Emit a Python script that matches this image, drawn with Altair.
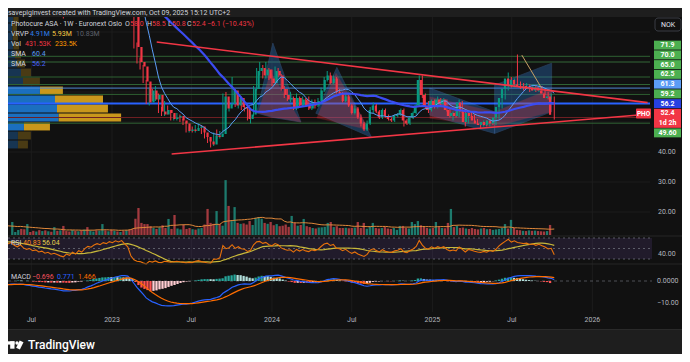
import altair as alt
import numpy as np
import pandas as pd

alt.data_transformers.disable_max_rows()

# ---------------- values ----------------
first_week = "2022-05-02"  # weekly candles (Monday of each week)

warmup_closes = [112, 115, 110, 106, 108, 104, 100, 103, 98, 101,
                 104, 107, 105, 102, 106, 109, 107, 104, 103, 101]
warmup_volumes = [400, 450, 380, 420, 500, 360, 390, 410, 350, 430,
                  380, 400, 420, 360, 390, 410, 370, 400, 380, 420]

closes = [102, 104, 106, 103, 101, 104, 100, 98, 99, 96,
          97, 94, 95, 92, 93, 90, 91, 89, 87, 85.5,
          88, 86, 89, 86.5, 90, 88, 92, 95, 94, 97,
          99, 98, 101, 100, 103, 102, 105, 104, 106, 103,
          100, 86, 75, 70, 68.5, 63.5, 56.5, 60.5, 57.5, 59,
          53.5, 52.5, 54, 53, 51, 51.5, 52, 50.5, 49.5, 47,
          47.5, 47, 48, 48.5, 46.5, 45, 43.5, 42.5, 45.5, 45,
          46, 58.5, 54.5, 56, 60.5, 55.5, 58, 55, 54.5, 51,
          52.5, 61, 67, 68, 65.5, 67.5, 64.5, 63, 67, 65.5,
          61, 59, 57.5, 58, 54.5, 58, 55.5, 57.5, 55.5, 54.5,
          56.5, 55.5, 57, 60.5, 64, 65.5, 63, 64.5, 60, 59.5,
          57, 58.5, 55.5, 53, 54.5, 51.5, 49.5, 47.5, 49.5, 54,
          55.5, 53.5, 51.5, 54, 52, 51, 50.5, 52, 52.5, 54,
          50.5, 49.5, 51.5, 53, 55.5, 64, 59, 55, 54, 57,
          55, 57.5, 56, 57.5, 54, 52, 53, 52, 56.5, 53.5,
          50, 53, 52, 50.5, 49.5, 49, 50, 49, 50.5, 49.5,
          51.5, 55, 58, 61, 64.5, 62, 64, 62.5, 62, 61.5,
          62, 61, 61.5, 60.5, 61.5, 60.5, 59.5, 58, 58.5, 52.4]

highs = [106, 106, 108, 107, 104, 105, 105, 101, 100, 100,
         98, 98, 96, 96, 94, 94, 92, 92, 90, 88,
         89, 89, 90, 89.5, 91, 91, 93, 96, 97, 98,
         100, 101, 102, 103, 104, 105, 106, 107, 108, 107,
         104, 100, 86.5, 76.5, 71.5, 69, 64, 61.5, 61, 62,
         59.5, 55, 57, 55.5, 54, 52.5, 53, 52.5, 51, 50,
         48.5, 48.5, 49, 49.5, 49, 47.5, 45.5, 44.5, 46.5, 47.5,
         47, 59.5, 60, 57, 65, 61, 59, 58.5, 56, 55,
         53.5, 62, 68, 70, 69, 70, 68, 67.5, 68.5, 68,
         66, 62, 61, 60, 58.5, 59.5, 58.5, 58.5, 58, 58.5,
         57.5, 57.5, 58, 61.5, 65, 67, 66.5, 65.5, 65, 61,
         60, 59.5, 59, 56, 55.5, 55, 52.5, 50, 50.5, 55,
         56.5, 56, 54, 54.5, 54.5, 52.5, 51.5, 52.5, 53, 54.5,
         54.5, 51, 52, 53.5, 56, 65.5, 65.5, 59.5, 57, 57.5,
         57.5, 58.5, 58, 58, 57.5, 54.5, 53.5, 53.5, 57.5, 57,
         54, 53.5, 53.5, 52.5, 51, 50, 50.5, 50.5, 51, 51,
         52, 55.5, 58.5, 62, 66.5, 65, 64.5, 72.5, 63.5, 63,
         63, 62.5, 62.5, 62, 62.5, 62, 61, 60, 59.5, 58.5]

lows = [100, 101, 103, 102, 99, 100, 99, 97, 96, 95,
        94, 93, 92, 91, 90, 89, 88, 87.5, 86, 84.5,
        85, 85, 85.5, 85.5, 86, 87, 87.5, 91, 93, 93,
        96, 97, 97, 99, 99, 101, 101, 103, 103, 102,
        99, 85.5, 74.5, 69.5, 67.5, 63, 56, 55.5, 57, 57,
        53, 52, 52, 52.5, 50.5, 50.5, 50.5, 50, 49, 46.5,
        46.5, 46.5, 46.5, 47.5, 46, 44.5, 43, 41.5, 42, 44.5,
        44.5, 45.5, 54, 53.5, 55.5, 55, 54.5, 54, 53.5, 50.5,
        49.5, 52, 60.5, 65.5, 64.5, 64.5, 64, 62, 62.5, 65,
        60.5, 58, 57, 56.5, 54, 54, 55, 55, 55, 54,
        54, 54.5, 55, 56.5, 60, 63.5, 62.5, 62.5, 59.5, 59,
        56.5, 56.5, 55, 52.5, 52.5, 51, 48.5, 47, 47, 49,
        53, 53, 51, 51, 51.5, 50.5, 50, 50, 51.5, 52,
        48.5, 49, 49, 51, 52.5, 55, 58, 54.5, 53, 53.5,
        54.5, 54.5, 55.5, 55.5, 53.5, 51.5, 50.5, 51.5, 51.5, 53,
        48.5, 49.5, 51.5, 50, 49, 48, 48.5, 48.5, 48.5, 49,
        49, 51, 54.5, 57.5, 60.5, 61.5, 61.5, 62, 61, 60.5,
        61, 60, 60.5, 60, 60, 59.5, 59, 57.5, 57.5, 50.8]

volumes = [560, 130, 215, 260, 250, 470, 130, 180, 150, 210,   # thousands
           170, 200, 160, 140, 340, 180, 200, 390, 170, 150,
           210, 180, 160, 200, 230, 340, 180, 150, 200, 190,
           470, 200, 160, 220, 180, 150, 130, 170, 200, 220,
           250, 700, 1160, 520, 470, 470, 380, 300, 260, 330,
           420, 300, 690, 260, 860, 280, 240, 430, 260, 300,
           250, 230, 280, 300, 450, 1120, 520, 480, 1030, 470,
           400, 2360, 1250, 600, 1200, 520, 480, 500, 450, 600,
           430, 730, 770, 700, 520, 480, 560, 420, 470, 380,
           400, 450, 350, 820, 520, 400, 430, 690, 380, 340,
           300, 280, 320, 330, 350, 520, 560, 340, 380, 300,
           300, 310, 290, 300, 320, 560, 300, 520, 270, 350,
           520, 300, 280, 300, 340, 280, 260, 300, 220, 390,
           390, 300, 280, 560, 470, 600, 420, 350, 300, 280,
           300, 560, 340, 300, 290, 520, 1120, 340, 390, 300,
           320, 280, 260, 300, 260, 240, 280, 300, 250, 260,
           220, 240, 260, 300, 470, 280, 650, 300, 220, 200,
           180, 170, 200, 180, 190, 170, 160, 150, 170, 431.53]

# visible-range volume profile (rows of 3 NOK, volumes in millions)
profile_low = [41, 44, 47, 50, 53, 56, 59, 62, 65, 68, 71, 74, 77, 80, 83]
profile_up = [1.04, 1.04, 1.61, 4.91, 4.75, 4.56, 3.13, 1.52, 1.33, 0.95, 0.76, 0.6, 0.55, 0.5, 0.6]
profile_down = [0.95, 1.23, 2.47, 5.93, 4.84, 4.56, 2.18, 1.61, 0.95, 0.76, 0.57, 0.55, 0.5, 0.45, 0.5]
value_area = (47, 62)
poc_level = 51.5

green_levels = [71.9, 70.0, 65.0, 62.5, 59.2, 49.6]
light_blue_level = 61.3
blue_level = 56.2

trend_dates = [["2023-04-13", "2026-05-07"], ["2023-05-17", "2026-05-07"]]
trend_prices = [[76.67, 56.47], [39.33, 52.57]]

patterns = [
    ("p1b", "blue", ["2023-11-27", "2024-01-03", "2024-03-07"], [53.0, 76.3, 50.0], [53.0, 51.5, 50.0]),
    ("p1r", "red", ["2023-11-30", "2023-12-29", "2024-03-07"], [53.0, 66.7, 50.0], [53.0, 51.8, 50.0]),
    ("p2b", "blue", ["2024-04-10", "2024-05-28", "2024-08-15"], [52.9, 68.2, 44.9], [52.9, 49.9, 44.9]),
    ("p2r", "red", ["2024-04-12", "2024-05-26", "2024-08-11"], [51.3, 66.3, 47.3], [51.3, 49.9, 47.3]),
    ("p3b", "blue", ["2024-12-26", "2025-05-23"], [61.3, 53.4], [52.3, 46.2]),
    ("p3r", "red", ["2024-12-26", "2025-05-23"], [58.4, 53.4], [51.2, 48.4]),
    ("p4b", "blue", ["2025-05-23", "2025-09-30"], [62.3, 69.6], [46.2, 53.4]),
    ("p4r", "red", ["2025-05-23", "2025-09-30"], [53.4, 61.2], [48.4, 53.4]),
]
tan_dates = ["2025-07-24", "2025-09-07"]
tan_prices = [72.3, 61.3]

tag_text = ["71.9", "70.0", "65.0", "62.5", "61.3", "59.2", "56.2", "52.4", "49.60"]
tag_kind = ["g", "g", "g", "g", "lb", "g", "b", "r", "g"]
tag_sub = "1d 2h"

time_label_dates = ["2022-07-01", "2023-01-01", "2023-07-01", "2024-01-01",
                    "2024-07-01", "2025-01-01", "2025-07-01", "2026-01-01"]
time_labels = ["Jul", "2023", "Jul", "2024", "Jul", "2025", "Jul", "2026"]
price_ticks = [40, 30, 20]
price_tick_text = ["40.00", "30.00", "20.00"]
rsi_ticks = [40]
rsi_tick_text = ["40.00"]
macd_ticks = [0, -10]
macd_tick_text = ["0.0000", "\u221210.00"]

header = "savepiginvest created with TradingView.com, Oct 09, 2025 15:12 UTC+2"

# ---------------- colours ----------------
BG = "#111111"
BAND = "#1e1e1e"
LBL = "#d1d4dc"
AXT = "#b2b5be"
UP, DN = "#089981", "#f23645"
VUP, VDN = "#1d7a6d", "#a33a3f"
GRID = "#1c1c1c"
FONT = "Roboto"

# ---------------- derived tables ----------------
n = len(closes)
w = len(warmup_closes)
dates = pd.date_range(first_week, periods=n, freq="7D")
allc = pd.Series(warmup_closes + closes, dtype=float)
allv = pd.Series(warmup_volumes + volumes, dtype=float)

sma_fast = allc.rolling(10).mean()
sma_slow = allc.rolling(40).mean()
dlt = allc.diff()
g = dlt.clip(lower=0).ewm(alpha=1 / 14, adjust=False).mean()
l = (-dlt).clip(lower=0).ewm(alpha=1 / 14, adjust=False).mean()
rsi = 100 - 100 / (1 + g / l)
rsi_ma = rsi.rolling(14).mean()
macd = allc.ewm(span=12, adjust=False).mean() - allc.ewm(span=26, adjust=False).mean()
sig = macd.ewm(span=9, adjust=False).mean()
hist = macd - sig
vol_ma = allv.rolling(20).mean()

df = pd.DataFrame({
    "date": dates,
    "open": allc.shift(1).iloc[w:].values,
    "high": highs, "low": lows, "close": closes, "vol": volumes,
    "sf": sma_fast.iloc[w:].values, "ss": sma_slow.iloc[w:].values,
    "rsi": rsi.iloc[w:].values, "rsima": rsi_ma.iloc[w:].values,
    "macd": macd.iloc[w:].values, "sig": sig.iloc[w:].values,
    "hist": hist.iloc[w:].values, "vma": vol_ma.iloc[w:].values,
})
df["col"] = np.where(df["close"] >= df["open"], UP, DN)
df["vcol"] = np.where(df["close"] >= df["open"], VUP, VDN)
hprev = hist.shift(1).iloc[w:].values
hc = []
for h, p in zip(df["hist"].values, hprev):
    if h >= 0:
        hc.append("#26a69a" if h >= p else "#b2dfdb")
    else:
        hc.append("#ff5252" if h < p else "#ffcdd2")
df["hcol"] = hc

# ---------------- scales (panes) ----------------
XS = alt.Scale(domain=[alt.DateTime(year=2023, month=1, date=1), alt.DateTime(year=2026, month=1, date=1)],
               range=[104, 584.4])
PS = alt.Scale(domain=[40, 70], range=[144, 54])
VS = alt.Scale(domain=[0, 1000], range=[227, 203.74])
RS = alt.Scale(domain=[20.48, 73.81], range=[256, 228], clamp=True)
MS = alt.Scale(domain=[-14.4, 7.9], range=[304, 256], clamp=True)
PX = alt.Scale(domain=[0, 10.83], range=[-1, 113])


def xt(f="date"):
    return alt.X(f"{f}:T", scale=XS, axis=None)


def yq(f, s):
    return alt.Y(f"{f}:Q", scale=s, axis=None)


def cnone(f):
    return alt.Color(f"{f}:N", scale=None, legend=None)


one = pd.DataFrame({"k": [0]})
layers = []

# grid
tl = pd.DataFrame({"d": pd.to_datetime(time_label_dates), "t": time_labels})
layers.append(alt.Chart(tl).mark_rule(color=GRID, strokeWidth=1).encode(
    x=xt("d"), y=alt.value(9), y2=alt.value(304)))
pg = pd.DataFrame({"v": [20, 30, 40, 50, 60, 70, 80]})
layers.append(alt.Chart(pg).mark_rule(color=GRID, strokeWidth=1).encode(
    x=alt.value(0), x2=alt.value(642), y=yq("v", PS)))

# RSI band
layers.append(alt.Chart(pd.DataFrame({"a": [70], "b": [30]})).mark_rect(color="#7e57c2", opacity=0.15).encode(
    x=alt.value(0), x2=alt.value(644), y=yq("a", RS), y2="b"))
layers.append(alt.Chart(pd.DataFrame({"v": [70, 50, 30]})).mark_rule(
    color="#787b86", strokeDash=[2, 3], strokeWidth=1, opacity=0.7).encode(
    x=alt.value(0), x2=alt.value(644), y=yq("v", RS)))

# volume profile
prof = pd.DataFrame({"lo": profile_low, "up": profile_up, "down": profile_down})
prof["ylo"] = prof["lo"] + 0.18
prof["yhi"] = prof["lo"] + 2.82
prof["z"] = 0.0
prof["tot"] = prof["up"] + prof["down"]
inva = (prof["lo"] >= value_area[0]) & (prof["lo"] < value_area[1])
prof["cu"] = np.where(inva, "#1b6fbf", "#173552")
prof["cd"] = np.where(inva, "#c9971c", "#4a3b14")
layers.append(alt.Chart(prof).mark_rect().encode(
    x=alt.X("z:Q", scale=PX, axis=None), x2="up", y=yq("ylo", PS), y2="yhi", color=cnone("cu")))
layers.append(alt.Chart(prof).mark_rect().encode(
    x=alt.X("up:Q", scale=PX, axis=None), x2="tot", y=yq("ylo", PS), y2="yhi", color=cnone("cd")))

# horizontal levels
layers.append(alt.Chart(pd.DataFrame({"v": [poc_level]})).mark_rule(color="#6e1f22", strokeWidth=1).encode(
    x=alt.value(0), x2=alt.value(642), y=yq("v", PS)))
layers.append(alt.Chart(pd.DataFrame({"v": green_levels})).mark_rule(color="#2f6233", strokeWidth=1).encode(
    x=alt.value(0), x2=alt.value(642), y=yq("v", PS)))
layers.append(alt.Chart(pd.DataFrame({"v": [light_blue_level]})).mark_rule(color="#4f86d4", strokeWidth=1).encode(
    x=alt.value(0), x2=alt.value(642), y=yq("v", PS)))
layers.append(alt.Chart(pd.DataFrame({"v": [blue_level]})).mark_rule(color="#2962ff", strokeWidth=2).encode(
    x=alt.value(0), x2=alt.value(642), y=yq("v", PS)))

# pattern drawings
prow = []
for name, kind, ds, tops, bots in patterns:
    for d_, t_, b_ in zip(ds, tops, bots):
        prow.append({"poly": name, "kind": kind, "d": pd.Timestamp(d_), "top": t_, "bot": b_})
pdf = pd.DataFrame(prow)
layers.append(alt.Chart(pdf[pdf.kind == "blue"]).mark_area(
    color="#2f7fd6", opacity=0.33, stroke="#5b9cf6", strokeWidth=0.8, strokeOpacity=0.9).encode(
    x=xt("d"), y=yq("top", PS), y2="bot", detail="poly:N"))
layers.append(alt.Chart(pdf[pdf.kind == "red"]).mark_area(
    color="#f23645", opacity=0.28, stroke="#f23645", strokeWidth=0.6, strokeOpacity=0.5).encode(
    x=xt("d"), y=yq("top", PS), y2="bot", detail="poly:N"))

# volume
layers.append(alt.Chart(df).mark_bar(size=2.3).encode(x=xt(), y=yq("vol", VS), color=cnone("vcol")))
layers.append(alt.Chart(df).mark_line(color="#e0883a", strokeWidth=1).encode(x=xt(), y=yq("vma", VS)))

# candles
layers.append(alt.Chart(df).mark_rule(strokeWidth=1).encode(
    x=xt(), y=yq("low", PS), y2="high", color=cnone("col")))
layers.append(alt.Chart(df).mark_bar(size=2.2).encode(
    x=xt(), y=yq("open", PS), y2="close", color=cnone("col")))

# moving averages
layers.append(alt.Chart(df).mark_line(color="#5b9cf6", strokeWidth=1).encode(x=xt(), y=yq("sf", PS)))
layers.append(alt.Chart(df).mark_line(color="#3b4cf2", strokeWidth=2.2).encode(x=xt(), y=yq("ss", PS)))

# trendlines
trow = []
for k, (ds, ps) in enumerate(zip(trend_dates, trend_prices)):
    for d_, p_ in zip(ds, ps):
        trow.append({"line": k, "d": pd.Timestamp(d_), "p": p_})
layers.append(alt.Chart(pd.DataFrame(trow)).mark_line(color="#f23645", strokeWidth=1.6).encode(
    x=xt("d"), y=yq("p", PS), detail="line:N"))
layers.append(alt.Chart(pd.DataFrame({"d": pd.to_datetime(tan_dates), "p": tan_prices})).mark_line(
    color="#c8a165", strokeWidth=1).encode(x=xt("d"), y=yq("p", PS)))

# RSI
layers.append(alt.Chart(df).mark_line(color="#c9b93a", strokeWidth=1.2).encode(x=xt(), y=yq("rsima", RS)))
layers.append(alt.Chart(df).mark_line(color="#e8710a", strokeWidth=1.1).encode(x=xt(), y=yq("rsi", RS)))

# MACD
layers.append(alt.Chart(pd.DataFrame({"v": [0]})).mark_rule(
    color="#787b86", strokeDash=[3, 3], strokeWidth=1, opacity=0.6).encode(
    x=alt.value(0), x2=alt.value(644), y=yq("v", MS)))
layers.append(alt.Chart(df).mark_bar(size=2.3).encode(x=xt(), y=yq("hist", MS), color=cnone("hcol")))
layers.append(alt.Chart(df).mark_line(color="#2962ff", strokeWidth=1.2).encode(x=xt(), y=yq("macd", MS)))
layers.append(alt.Chart(df).mark_line(color="#ff6d00", strokeWidth=1.2).encode(x=xt(), y=yq("sig", MS)))

# pane separators
layers.append(alt.Chart(pd.DataFrame({"y": [228, 256]})).mark_rule(color="#262626", strokeWidth=1).encode(
    x=alt.value(0), x2=alt.value(674), y=alt.Y("y:Q", scale=None)))

# header / footer bands
layers.append(alt.Chart(one).mark_rect(color=BAND).encode(
    x=alt.value(0), x2=alt.value(674), y=alt.value(0), y2=alt.value(9)))
layers.append(alt.Chart(one).mark_rect(color=BAND).encode(
    x=alt.value(0), x2=alt.value(674), y=alt.value(322), y2=alt.value(346)))
layers.append(alt.Chart(one).mark_rule(color="#2a2a2a", strokeWidth=1).encode(
    x=alt.value(0), x2=alt.value(674), y=alt.value(321.5)))

# texts (legends)
RED, GR = "#f23645", LBL
txt = [
    (header, 0, 4.5, LBL),
    ("Photocure ASA \u00b7 1W \u00b7 Euronext Oslo", 3, 16, GR),
    ("O", 117, 16, GR), ("58.0", 122, 16, RED), ("H", 139, 16, GR), ("58.5", 144, 16, RED),
    ("L", 160, 16, GR), ("50.8", 164, 16, RED), ("C", 179, 16, GR), ("52.4", 184, 16, RED),
    ("\u22126.1 (\u221210.43%)", 199, 16, RED),
    ("VRVP", 3, 26, GR), ("4.91M", 22, 26, "#2f80ed"), ("5.93M", 44, 26, "#f7c843"), ("10.83M", 68, 26, "#5d606b"),
    ("Vol", 3, 36, GR), ("431.53K", 17, 36, RED), ("233.5K", 47, 36, "#ff9800"),
    ("SMA", 3, 46, GR), ("60.4", 24, 46, "#5b9cf6"),
    ("SMA", 3, 56, GR), ("56.2", 24, 56, "#4a63ff"),
    ("RSI", 3, 235, GR), ("40.83", 15, 235, "#ff8c1a"), ("56.04", 34, 235, "#e5d250"),
    ("MACD", 3, 269, GR), ("\u22120.696", 24, 269, "#f7525f"), ("0.771", 49, 269, "#2962ff"),
    ("1.466", 70, 269, "#ff6d00"),
]
tdf = pd.DataFrame(txt, columns=["t", "px", "py", "c"])
layers.append(alt.Chart(tdf).mark_text(align="left", baseline="middle", font=FONT, fontSize=7).encode(
    x=alt.X("px:Q", scale=None), y=alt.Y("py:Q", scale=None), text="t:N", color=cnone("c")))

# footer logo (T bar, stem, dot, slanted stroke) + name
layers.append(alt.Chart(one).mark_rect(color="#ffffff").encode(
    x=alt.value(-2), x2=alt.value(6.5), y=alt.value(333.3), y2=alt.value(336.6)))
layers.append(alt.Chart(one).mark_rect(color="#ffffff").encode(
    x=alt.value(2.2), x2=alt.value(6.5), y=alt.value(333.3), y2=alt.value(340.7)))
layers.append(alt.Chart(one).mark_point(filled=True, color="#ffffff", size=11, opacity=1).encode(
    x=alt.value(9.0), y=alt.value(335.0)))
layers.append(alt.Chart(one).mark_rule(color="#ffffff", strokeWidth=4.2, strokeCap="butt").encode(
    x=alt.value(13.6), y=alt.value(333.3), x2=alt.value(10.0), y2=alt.value(340.7)))
layers.append(alt.Chart(pd.DataFrame({"t": ["TradingView"]})).mark_text(
    align="left", baseline="middle", font=FONT, fontSize=12, fontWeight=500, color="#ffffff").encode(
    x=alt.value(20), y=alt.value(336.8), text="t:N"))

# time axis labels
layers.append(alt.Chart(tl).mark_text(baseline="middle", font=FONT, fontSize=7, color=AXT).encode(
    x=xt("d"), y=alt.value(312), text="t:N"))

# price / rsi / macd axis labels
layers.append(alt.Chart(pd.DataFrame({"v": price_ticks, "t": price_tick_text})).mark_text(
    align="left", baseline="middle", font=FONT, fontSize=7, color=AXT).encode(
    x=alt.value(650), y=yq("v", PS), text="t:N"))
layers.append(alt.Chart(pd.DataFrame({"v": rsi_ticks, "t": rsi_tick_text})).mark_text(
    align="left", baseline="middle", font=FONT, fontSize=7, color=AXT).encode(
    x=alt.value(650), y=yq("v", RS), text="t:N"))
layers.append(alt.Chart(pd.DataFrame({"v": macd_ticks, "t": macd_tick_text})).mark_text(
    align="left", baseline="middle", font=FONT, fontSize=7, color=AXT).encode(
    x=alt.value(649), y=yq("v", MS), text="t:N"))

# price tags column
TAGC = {"g": "#4caf50", "lb": "#5b9cf6", "b": "#2740e0", "r": "#f23645"}
slot = 9.75
rows, k = [], 0
for t, kind in zip(tag_text, tag_kind):
    span = 2 if kind == "r" else 1
    top = 32.25 + k * slot
    rows.append({"t": t, "top": top + 0.4, "bot": top + span * slot - 0.4, "yc": top + slot / 2, "c": TAGC[kind]})
    if kind == "r":
        rows.append({"t": tag_sub, "top": top + 0.4, "bot": top + span * slot - 0.4, "yc": top + 1.5 * slot,
                     "c": TAGC[kind]})
    k += span
tg = pd.DataFrame(rows)
layers.append(alt.Chart(tg).mark_rect().encode(
    x=alt.value(646), x2=alt.value(673), y=alt.Y("top:Q", scale=None), y2="bot", color=cnone("c")))
layers.append(alt.Chart(tg).mark_text(baseline="middle", font=FONT, fontSize=7, fontWeight="bold",
                                       color="#ffffff").encode(
    x=alt.value(659.5), y=alt.Y("yc:Q", scale=None), text="t:N"))

# PHO tag
layers.append(alt.Chart(one).mark_rect(color="#f23645", cornerRadius=1).encode(
    x=alt.value(628), x2=alt.value(643), y=alt.value(100.5), y2=alt.value(110.5)))
layers.append(alt.Chart(pd.DataFrame({"t": ["PHO"]})).mark_text(
    baseline="middle", font=FONT, fontSize=6.5, fontWeight="bold", color="#ffffff").encode(
    x=alt.value(635.5), y=alt.value(105.6), text="t:N"))

# NOK box
layers.append(alt.Chart(one).mark_rect(fill=BG, stroke="#3a3d45", strokeWidth=1, cornerRadius=3).encode(
    x=alt.value(647), x2=alt.value(673), y=alt.value(10), y2=alt.value(23)))
layers.append(alt.Chart(pd.DataFrame({"t": ["NOK"]})).mark_text(
    baseline="middle", font=FONT, fontSize=7, color="#e0e3eb").encode(
    x=alt.value(660), y=alt.value(16.5), text="t:N"))

chart = alt.layer(*layers).resolve_scale(
    x="independent", y="independent", color="independent"
).properties(
    width=674, height=346, autosize=alt.AutoSizeParams(type="none"), padding=0
).configure(background=BG).configure_view(strokeWidth=0)

chart.save("out.html", embed_options={"renderer": "svg", "actions": False})
